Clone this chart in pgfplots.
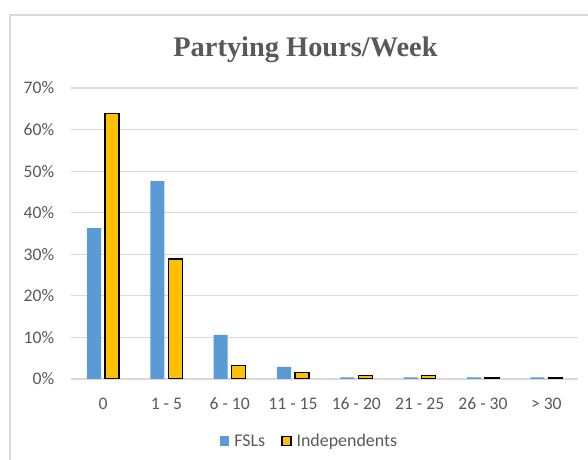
\documentclass[border=0pt]{standalone}
\usepackage{fontspec}
\setmainfont{Carlito}
\newfontfamily\titlefont{Liberation Serif}
\usepackage{pgfplots}
\pgfplotsset{compat=1.18}
\definecolor{fsl}{HTML}{5B9BD5}
\definecolor{ind}{HTML}{FFC000}
\definecolor{txt}{HTML}{595959}
\definecolor{grd}{HTML}{D9D9D9}
\begin{document}
\begin{tikzpicture}
\path[use as bounding box] (0bp,0bp) rectangle (588bp,460bp);
\draw[grd, line width=1.2bp] (10bp,0bp) -- (10bp,445bp) -- (588bp,445bp);
\node[anchor=base, text=txt, font=\titlefont\bfseries\fontsize{28.5}{30}\selectfont] at (305.5bp,403bp) {Partying Hours/Week};
\begin{axis}[
  at={(71.4bp,81bp)}, anchor=south west, scale only axis,
  width=506.6bp, height=291bp,
  ymin=0, ymax=70, xmin=-0.5, xmax=7.5,
  ybar, bar width=14bp,
  axis line style={draw=none},
  major tick length=0pt,
  ymajorgrids, grid style={grd, line width=1.1bp},
  ytick={0,10,...,70},
  yticklabel={\pgfmathprintnumber{\tick}\%},
  /pgf/number format/assume math mode=true,
  xtick={0,...,7},
  xticklabels={0,1 - 5,6 - 10,11 - 15,16 - 20,21 - 25,26 - 30,> 30},
  ticklabel style={font=\fontsize{17.7}{20}\selectfont, text=txt},
  xticklabel style={anchor=base, yshift=-30bp, inner sep=0pt},
  yticklabel style={anchor=east, xshift=-17bp, inner sep=0pt},
  legend style={at={(0.470,-0.213)}, anchor=center, draw=none, fill=none,
    legend columns=-1, font=\fontsize{18}{20}\selectfont, text=txt,
    /tikz/every odd column/.append style={column sep=3bp},
    /tikz/every even column/.append style={column sep=14bp},
    inner sep=0pt},
  legend cell align=left,
]
\addplot[fill=fsl, draw=none, bar shift=-9bp,
  legend image code/.code={\fill[fsl] (0bp,-4.8bp) rectangle (9.6bp,4.8bp);}]
  coordinates {(0,36.3) (1,47.6) (2,10.6) (3,2.9) (4,0.4) (5,0.4) (6,0.4) (7,0.4)};
\addplot[fill=ind, draw=black, line width=1.4bp, bar width=14bp, bar shift=9bp,
  legend image code/.code={\draw[fill=ind, draw=black, line width=1.3bp] (0bp,-4.5bp) rectangle (9bp,4.5bp);}]
  coordinates {(0,63.9) (1,28.9) (2,3.2) (3,1.6) (4,0.8) (5,0.8) (6,0.3) (7,0.3)};
\legend{FSLs,Independents}
\end{axis}
\end{tikzpicture}
\end{document}
